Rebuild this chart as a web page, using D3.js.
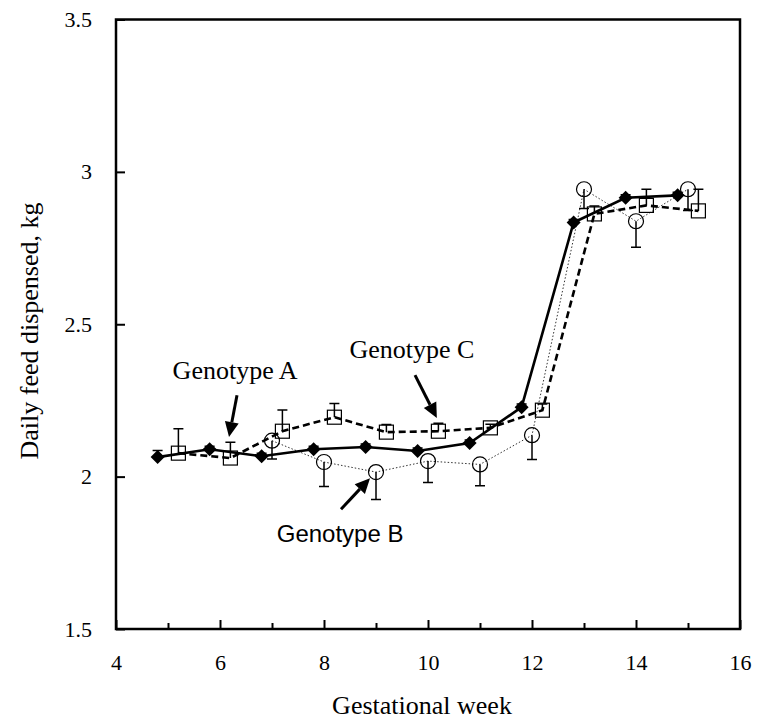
<!DOCTYPE html>
<html>
<head>
<meta charset="utf-8">
<script src="https://cdn.jsdelivr.net/npm/d3@7"></script>
<style>
  html, body { margin: 0; padding: 0; background: #fff; }
  svg { display: block; }
</style>
</head>
<body>
<svg id="chart" width="759" height="725"></svg>
<script>
// ---- data ----
const weeksA = [4.8, 5.8, 6.8, 7.8, 8.8, 9.8, 10.8, 11.8, 12.8, 13.8, 14.8];
const valuesA = [2.064, 2.09, 2.067, 2.09, 2.097, 2.084, 2.11, 2.228, 2.834, 2.915, 2.923];
const errA = [0.022, 0.01, 0.01, 0.01, 0.01, 0.01, 0.01, 0.01, 0.01, 0.01, 0.01];

const weeksB = [7, 8, 9, 10, 11, 12, 13, 14, 15];
const valuesB = [2.118, 2.048, 2.015, 2.051, 2.04, 2.136, 2.943, 2.838, 2.943];
const errB = [0.06, 0.08, 0.09, 0.07, 0.07, 0.08, 0.063, 0.085, 0.07];

const weeksC = [5.2, 6.2, 7.2, 8.2, 9.2, 10.2, 11.2, 12.2, 13.2, 14.2, 15.2];
const valuesC = [2.077, 2.061, 2.149, 2.195, 2.146, 2.149, 2.16, 2.218, 2.862, 2.89, 2.872];
const errC = [0.08, 0.052, 0.07, 0.045, 0.025, 0.026, 0.012, 0.02, 0.026, 0.053, 0.071];

const xTicks = [4, 6, 8, 10, 12, 14, 16];
const xMinorTicks = [5, 7, 9, 11, 13, 15];
const yTicks = [1.5, 2, 2.5, 3, 3.5];

const annotationLabels = ["Genotype A", "Genotype C", "Genotype B"];
const annotationText = [[6.29, 2.32], [9.69, 2.389], [8.31, 1.784]];
const annotationArrowFrom = [[6.327, 2.267], [9.75, 2.333], [8.327, 1.893]];
const annotationArrowTo = [[6.173, 2.13], [10.17, 2.192], [8.885, 1.995]];

const xLabel = "Gestational week";
const yLabel = "Daily feed dispensed, kg";

// ---- layout ----
const svg = d3.select("#chart");
const mLeft = 116, mRight = 740, mTop = 19.5, mBottom = 629;
const x = d3.scaleLinear().domain([4, 16]).range([mLeft, mRight]);
const y = d3.scaleLinear().domain([1.5, 3.5]).range([mBottom, mTop]);
const serif = "'Liberation Serif', 'Times New Roman', serif";
const sans = "'Liberation Sans', Arial, sans-serif";

// frame
svg.append("rect")
  .attr("x", mLeft).attr("y", mTop)
  .attr("width", mRight - mLeft).attr("height", mBottom - mTop)
  .attr("fill", "none").attr("stroke", "#000").attr("stroke-width", 2.5);

// x axis (ticks inside)
const xAxis = d3.axisBottom(x).tickValues(xTicks).tickSize(-9).tickPadding(25)
  .tickFormat(d3.format("d"));
const gx = svg.append("g").attr("transform", `translate(0,${mBottom})`).call(xAxis);
gx.select(".domain").remove();
gx.selectAll(".tick line").attr("stroke", "#000").attr("stroke-width", 2);
gx.selectAll(".tick text").attr("font-family", serif).attr("font-size", 22).attr("fill", "#000");
const xMinor = d3.axisBottom(x).tickValues(xMinorTicks).tickSize(-6).tickFormat("");
const gxm = svg.append("g").attr("transform", `translate(0,${mBottom})`).call(xMinor);
gxm.select(".domain").remove();
gxm.selectAll(".tick line").attr("stroke", "#000").attr("stroke-width", 2);

// y axis (ticks inside)
const yAxis = d3.axisLeft(y).tickValues(yTicks).tickSize(-9).tickPadding(24)
  .tickFormat(d => String(d));
const gy = svg.append("g").attr("transform", `translate(${mLeft},0)`).call(yAxis);
gy.select(".domain").remove();
gy.selectAll(".tick line").attr("stroke", "#000").attr("stroke-width", 2);
gy.selectAll(".tick text").attr("font-family", serif).attr("font-size", 22).attr("fill", "#000");

// axis labels
svg.append("text").attr("x", 422).attr("y", 714)
  .attr("text-anchor", "middle").attr("font-family", serif).attr("font-size", 26)
  .text(xLabel);
svg.append("text").attr("transform", `translate(38,331) rotate(-90)`)
  .attr("text-anchor", "middle").attr("font-family", serif).attr("font-size", 26)
  .text(yLabel);

const line = d3.line().x(d => x(d[0])).y(d => y(d[1]));
const zip = (a, b, e) => a.map((v, i) => [v, b[i], e[i]]);
const dataA = zip(weeksA, valuesA, errA);
const dataB = zip(weeksB, valuesB, errB);
const dataC = zip(weeksC, valuesC, errC);

// Genotype B: dotted
svg.append("path").datum(dataB).attr("d", line)
  .attr("fill", "none").attr("stroke", "#333").attr("stroke-width", 1)
  .attr("stroke-dasharray", "1.5,2");
svg.append("g").selectAll("path").data(dataB).join("path")
  .attr("d", d => `M${x(d[0])},${y(d[1])}V${y(d[1] - d[2])}M${x(d[0]) - 5},${y(d[1] - d[2])}h10`)
  .attr("stroke", "#000").attr("stroke-width", 1.5).attr("fill", "none");
svg.append("g").selectAll("circle").data(dataB).join("circle")
  .attr("cx", d => x(d[0])).attr("cy", d => y(d[1])).attr("r", 7.5)
  .attr("fill", "none").attr("stroke", "#000").attr("stroke-width", 1.2);

// Genotype C: dashed
svg.append("path").datum(dataC).attr("d", line)
  .attr("fill", "none").attr("stroke", "#000").attr("stroke-width", 2.6)
  .attr("stroke-dasharray", "7,4");
svg.append("g").selectAll("path").data(dataC).join("path")
  .attr("d", d => `M${x(d[0])},${y(d[1])}V${y(d[1] + d[2])}M${x(d[0]) - 5},${y(d[1] + d[2])}h10`)
  .attr("stroke", "#000").attr("stroke-width", 1.5).attr("fill", "none");
svg.append("g").selectAll("rect").data(dataC).join("rect")
  .attr("x", d => x(d[0]) - 7).attr("y", d => y(d[1]) - 7)
  .attr("width", 14).attr("height", 14)
  .attr("fill", "none").attr("stroke", "#000").attr("stroke-width", 1.2);

// Genotype A: solid with diamonds
svg.append("path").datum(dataA).attr("d", line)
  .attr("fill", "none").attr("stroke", "#000").attr("stroke-width", 2.6);
svg.append("g").selectAll("path").data(dataA).join("path")
  .attr("d", d => `M${x(d[0])},${y(d[1])}V${y(d[1] + d[2])}M${x(d[0]) - 5},${y(d[1] + d[2])}h10`)
  .attr("stroke", "#000").attr("stroke-width", 1.5).attr("fill", "none");
svg.append("g").selectAll("path.dia").data(dataA).join("path")
  .attr("class", "dia")
  .attr("d", d => `M${x(d[0])},${y(d[1]) - 7}l7,7l-7,7l-7,-7z`)
  .attr("fill", "#000");

// annotations
annotationLabels.forEach((lab, i) => {
  svg.append("text")
    .attr("x", x(annotationText[i][0])).attr("y", y(annotationText[i][1]))
    .attr("text-anchor", "middle")
    .attr("font-family", i === 2 ? sans : serif)
    .attr("font-size", i === 2 ? 24 : 26)
    .text(lab);
  const x0 = x(annotationArrowFrom[i][0]), y0 = y(annotationArrowFrom[i][1]);
  const x1 = x(annotationArrowTo[i][0]), y1 = y(annotationArrowTo[i][1]);
  const ang = Math.atan2(y1 - y0, x1 - x0);
  const hl = 15, hw = 7;
  const bx = x1 - hl * Math.cos(ang), by = y1 - hl * Math.sin(ang);
  svg.append("line").attr("x1", x0).attr("y1", y0).attr("x2", bx).attr("y2", by)
    .attr("stroke", "#000").attr("stroke-width", 3);
  const px = -Math.sin(ang), py = Math.cos(ang);
  svg.append("path")
    .attr("d", `M${x1},${y1}L${bx + hw * px},${by + hw * py}L${bx - hw * px},${by - hw * py}Z`)
    .attr("fill", "#000");
});
</script>
</body>
</html>
